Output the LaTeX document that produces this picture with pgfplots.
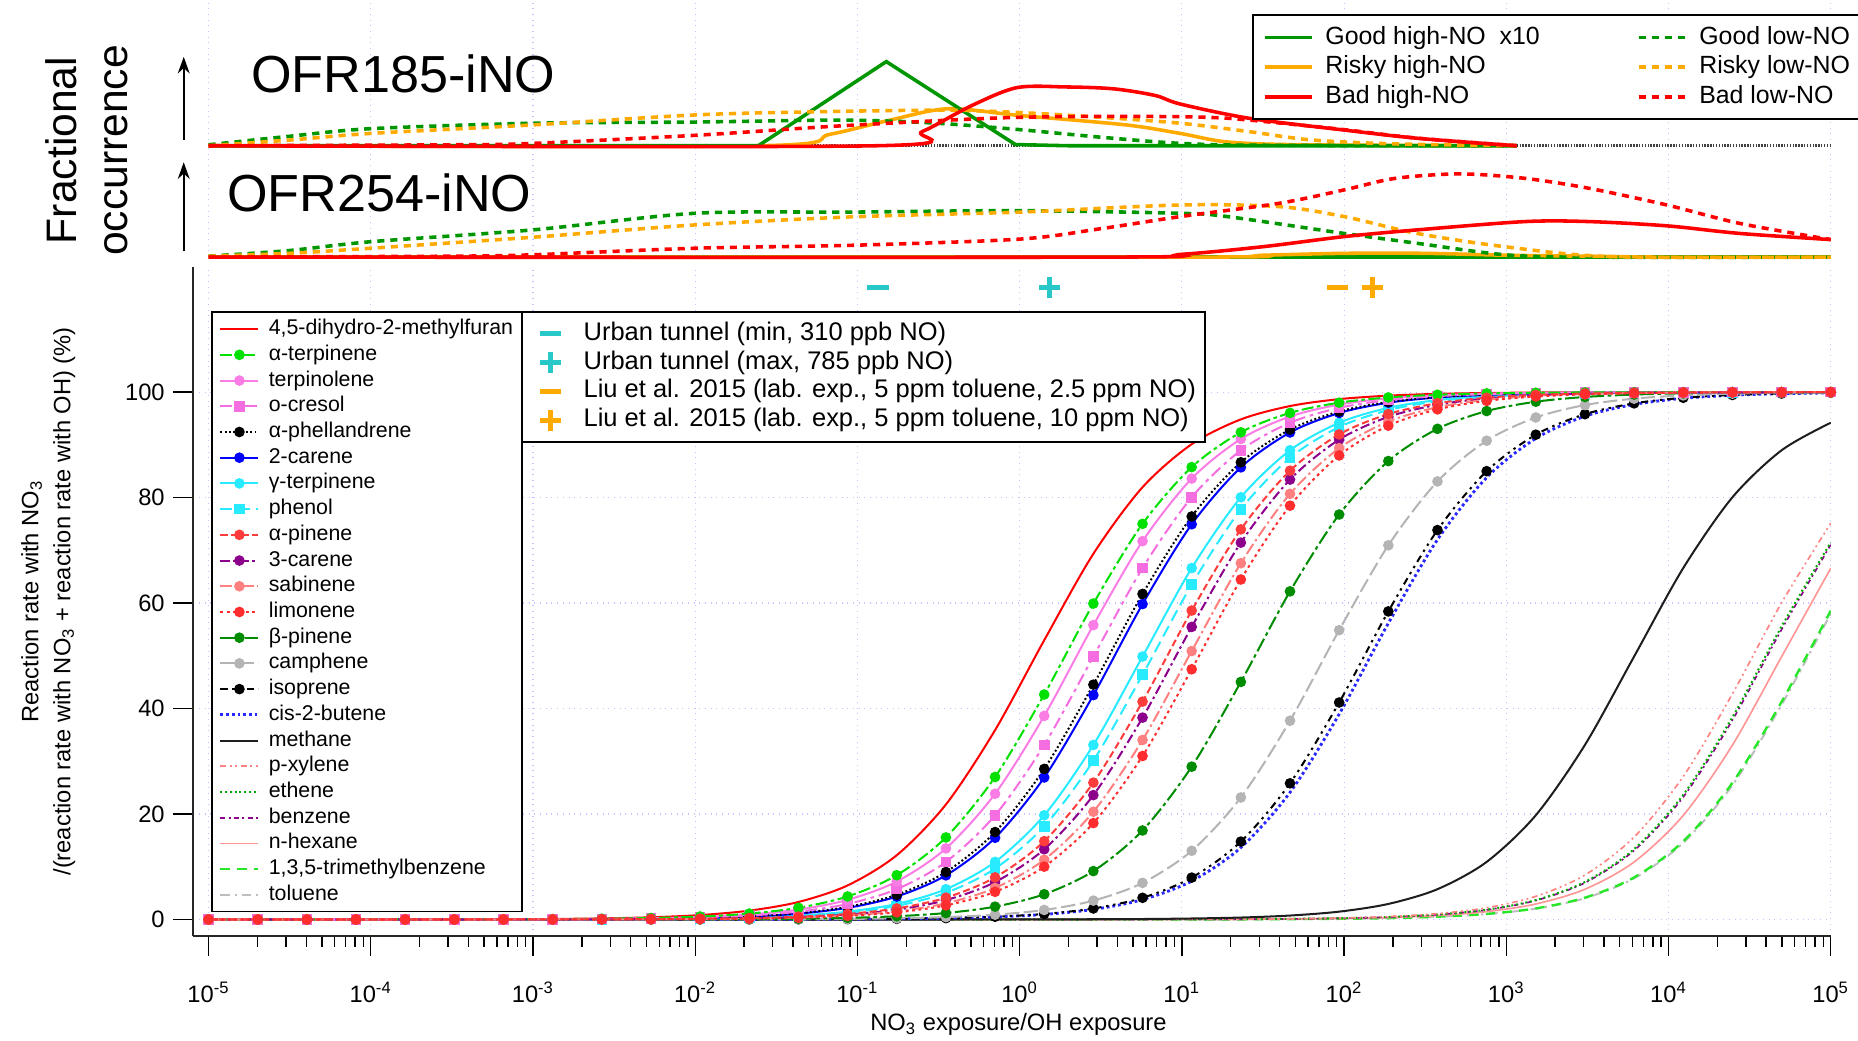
\documentclass[border=0pt]{standalone}
\usepackage{fontspec}
\setmainfont{Liberation Sans}
\usepackage{pgfplots}
\usepackage{pgfplotstable}
\pgfplotsset{compat=1.18}
\usetikzlibrary{arrows.meta}

\definecolor{cRed}{RGB}{255,0,0}
\definecolor{cATerp}{RGB}{0,225,0}
\definecolor{cTerpinolene}{RGB}{250,125,230}
\definecolor{cCresol}{RGB}{245,110,225}
\definecolor{cCarene}{RGB}{0,0,255}
\definecolor{cGTerp}{RGB}{40,235,255}
\definecolor{cAPinene}{RGB}{255,60,60}
\definecolor{cPurple}{RGB}{140,0,140}
\definecolor{cSabinene}{RGB}{255,128,128}
\definecolor{cLimonene}{RGB}{255,45,45}
\definecolor{cBPinene}{RGB}{0,140,0}
\definecolor{cCamphene}{RGB}{180,180,180}
\definecolor{cButene}{RGB}{40,40,255}
\definecolor{cMethane}{RGB}{30,30,30}
\definecolor{cXylene}{RGB}{255,130,130}
\definecolor{cEthene}{RGB}{0,170,0}
\definecolor{cHexane}{RGB}{255,150,150}
\definecolor{cTMB}{RGB}{40,230,40}
\definecolor{cToluene}{RGB}{190,190,190}
\definecolor{gridc}{RGB}{195,195,255}
\definecolor{pGreen}{RGB}{0,150,0}
\definecolor{pOrange}{RGB}{255,170,0}
\definecolor{pRed}{RGB}{255,0,0}
\definecolor{tealc}{RGB}{40,200,200}

\pgfplotsset{
 mk/.style={mark size=1.8pt, mark options={solid,fill=#1,draw=#1}},
 sDih/.style={color=cRed, line width=0.85pt, solid},
 sATe/.style={color=cATerp, line width=0.85pt, dash pattern=on 5pt off 1.5pt on 1.5pt off 1.5pt, mark=*, mk=cATerp},
 sTpn/.style={color=cTerpinolene, line width=0.85pt, solid, mark=*, mk=cTerpinolene},
 sCre/.style={color=cCresol, line width=0.85pt, dash pattern=on 5pt off 2pt on 1.5pt off 2pt, mark=square*, mk=cCresol},
 sAPh/.style={color=black, line width=0.85pt, dash pattern=on 0.8pt off 1pt, mark=*, mk=black},
 sCa2/.style={color=cCarene, line width=0.85pt, solid, mark=*, mk=cCarene},
 sGTe/.style={color=cGTerp, line width=0.85pt, solid, mark=*, mk=cGTerp},
 sPhe/.style={color=cGTerp, line width=0.85pt, dash pattern=on 5pt off 2.5pt, mark=square*, mk=cGTerp},
 sAPi/.style={color=cAPinene, line width=0.85pt, dash pattern=on 3pt off 1.5pt, mark=*, mk=cAPinene},
 sCa3/.style={color=cPurple, line width=0.85pt, dash pattern=on 4pt off 1.5pt on 1pt off 1.5pt, mark=*, mk=cPurple},
 sSab/.style={color=cSabinene, line width=0.85pt, dash pattern=on 5pt off 1.5pt on 1pt off 1.5pt, mark=*, mk=cSabinene},
 sLim/.style={color=cLimonene, line width=0.85pt, dash pattern=on 1.2pt off 1.5pt, mark=*, mk=cLimonene},
 sBPi/.style={color=cBPinene, line width=0.85pt, dash pattern=on 6pt off 1.5pt on 1.5pt off 1.5pt, mark=*, mk=cBPinene},
 sCam/.style={color=cCamphene, line width=0.85pt, dash pattern=on 6pt off 2pt, mark=*, mk=cCamphene},
 sIso/.style={color=black, line width=0.85pt, dash pattern=on 3pt off 2pt on 1pt off 2pt on 1pt off 2pt, mark=*, mk=black},
 sBut/.style={color=cButene, line width=1.2pt, dash pattern=on 1.2pt off 1.2pt},
 sMet/.style={color=cMethane, line width=0.85pt, solid},
 sXyl/.style={color=cXylene, line width=0.7pt, dash pattern=on 2.5pt off 1.5pt on 0.8pt off 1.5pt on 0.8pt off 1.5pt},
 sEth/.style={color=cEthene, line width=0.85pt, dash pattern=on 0.8pt off 1.2pt},
 sBen/.style={color=cPurple, line width=0.7pt, dash pattern=on 2pt off 1.5pt on 0.8pt off 1.5pt},
 sHex/.style={color=cHexane, line width=0.7pt, solid},
 sTMB/.style={color=cTMB, line width=1pt, dash pattern=on 4pt off 3pt},
 sTol/.style={color=cToluene, line width=0.85pt, dash pattern=on 4pt off 2pt on 1pt off 2pt},
 pGH/.style={color=pGreen, line width=1.5pt, solid},
 pGL/.style={color=pGreen, line width=1.5pt, dash pattern=on 3pt off 2.5pt},
 pRH/.style={color=pOrange, line width=1.5pt, solid},
 pRL/.style={color=pOrange, line width=1.5pt, dash pattern=on 3pt off 2.5pt},
 pBH/.style={color=pRed, line width=1.5pt, solid},
 pBL/.style={color=pRed, line width=1.5pt, dash pattern=on 3pt off 2.5pt},
 pBase/.style={color=black!75, line width=1.2pt, dash pattern=on 0.6pt off 0.6pt},
}

\pgfplotstableread{
x c1 c2 c3 c4 c5 c6 c7 c8 c9 c10 c11 c12 c13 c14 c15 c16 c17 c18 c19 c20 c21 c22 c23
1e-5 0 0 0 0 0 0 0 0 0 0 0 0 0 0 0 0 0 0 0 0 0 0 0
2.0092e-5 0 0 0 0 0 0 0 0 0 0 0 0 0 0 0 0 0 0 0 0 0 0 0
4.0370e-5 0 0 0 0 0 0 0 0 0 0 0 0 0 0 0 0 0 0 0 0 0 0 0
8.1113e-5 0 0 0 0 0 0 0 0 0 0 0 0 0 0 0 0 0 0 0 0 0 0 0
1.6298e-4 0.01 0.01 0 0 0 0 0 0 0 0 0 0 0 0 0 0 0 0 0 0 0 0 0
3.2745e-4 0.03 0.02 0.01 0.01 0.01 0.01 0 0 0 0 0 0 0 0 0 0 0 0 0 0 0 0 0
6.5793e-4 0.05 0.03 0.03 0.02 0.02 0.02 0.01 0.01 0.01 0 0 0 0 0 0 0 0 0 0 0 0 0 0
1.3219e-3 0.10 0.07 0.06 0.05 0.04 0.03 0.02 0.02 0.02 0.01 0.01 0.01 0 0 0 0 0 0 0 0 0 0 0
2.6561e-3 0.21 0.14 0.12 0.09 0.07 0.07 0.05 0.04 0.03 0.03 0.02 0.02 0.01 0 0 0 0 0 0 0 0 0 0
5.3367e-3 0.42 0.28 0.24 0.19 0.15 0.14 0.09 0.08 0.07 0.06 0.05 0.04 0.02 0.01 0.01 0 0 0 0 0 0 0 0
1.0723e-2 0.84 0.56 0.47 0.37 0.30 0.28 0.19 0.16 0.13 0.12 0.10 0.08 0.04 0.01 0.01 0.01 0 0 0 0 0 0 0
2.1544e-2 1.68 1.12 0.95 0.75 0.60 0.56 0.37 0.32 0.26 0.23 0.19 0.17 0.08 0.03 0.02 0.01 0 0 0 0 0 0 0
4.3288e-2 3.32 2.22 1.88 1.49 1.21 1.11 0.75 0.65 0.53 0.47 0.39 0.34 0.15 0.06 0.03 0.03 0 0 0 0 0 0 0
8.6975e-2 6.46 4.37 3.72 2.95 2.39 2.21 1.49 1.30 1.06 0.93 0.78 0.68 0.31 0.11 0.07 0.06 0 0 0 0 0 0 0
0.17475 12.19 8.40 7.20 5.75 4.69 4.35 2.95 2.58 2.10 1.86 1.55 1.35 0.62 0.23 0.13 0.12 0 0 0 0 0 0 0
0.35112 21.81 15.56 13.48 10.92 9.00 8.37 5.75 5.05 4.14 3.67 3.07 2.68 1.23 0.46 0.26 0.24 0 0 0 0 0 0 0
0.70548 35.91 27.02 23.84 19.76 16.58 15.50 10.92 9.65 7.99 7.10 5.98 5.25 2.44 0.91 0.53 0.48 0.01 0 0 0 0 0 0
1.4175 52.96 42.66 38.61 33.11 28.55 26.93 19.76 17.66 14.85 13.32 11.33 10.02 4.79 1.81 1.05 0.96 0.02 0 0 0 0 0 0
2.8480 69.35 59.91 55.82 49.86 44.53 42.55 33.10 30.12 25.95 23.59 20.43 18.28 9.18 3.58 2.09 1.91 0.05 0.01 0 0 0 0 0
5.7224 81.97 75.02 71.74 66.64 61.73 59.81 49.86 46.41 41.31 38.28 34.04 31.00 16.88 6.94 4.11 3.77 0.09 0.02 0.01 0.01 0.01 0.01 0.01
11.498 90.13 85.78 83.61 80.06 76.42 74.94 66.64 63.50 58.58 55.48 50.90 47.45 28.98 13.03 7.94 7.29 0.19 0.03 0.03 0.03 0.02 0.02 0.02
23.101 94.83 92.38 91.11 88.97 86.69 85.73 80.06 77.76 73.97 71.46 67.56 64.47 45.05 23.14 14.77 13.64 0.37 0.07 0.06 0.06 0.05 0.03 0.03
46.416 97.36 96.06 95.37 94.19 92.90 92.35 88.97 87.54 85.10 83.42 80.71 78.47 62.22 37.69 25.82 24.10 0.75 0.14 0.12 0.11 0.09 0.07 0.06
93.260 98.67 98.00 97.64 97.02 96.33 96.04 94.19 93.38 91.98 91.00 89.37 87.99 76.79 54.86 41.15 38.94 1.49 0.28 0.23 0.23 0.19 0.13 0.13
187.38 99.33 98.99 98.81 98.49 98.14 97.99 97.02 96.59 95.84 95.31 94.41 93.64 86.93 70.95 58.42 56.17 2.95 0.56 0.47 0.46 0.37 0.26 0.26
376.49 99.67 99.50 99.40 99.24 99.07 98.99 98.49 98.28 97.89 97.61 97.14 96.73 93.04 83.07 73.84 72.03 5.75 1.12 0.94 0.92 0.75 0.53 0.52
756.46 99.83 99.75 99.70 99.62 99.53 99.49 99.24 99.13 98.94 98.80 98.55 98.34 96.41 90.79 85.01 83.80 10.92 2.23 1.86 1.82 1.49 1.06 1.03
1519.9 99.92 99.87 99.85 99.81 99.77 99.75 99.62 99.57 99.47 99.40 99.28 99.17 98.18 95.19 91.93 91.22 19.77 4.39 3.68 3.60 2.94 2.10 2.06
3053.9 99.96 99.94 99.93 99.91 99.88 99.87 99.81 99.78 99.73 99.70 99.64 99.58 99.08 97.55 95.82 95.43 33.11 8.44 7.12 6.97 5.74 4.14 4.04
6135.9 99.98 99.97 99.96 99.95 99.94 99.94 99.91 99.89 99.87 99.85 99.82 99.79 99.54 98.76 97.87 97.67 49.87 15.63 13.35 13.09 10.91 7.98 7.81
12328 99.99 99.98 99.98 99.98 99.97 99.97 99.95 99.95 99.93 99.93 99.91 99.90 99.77 99.38 98.93 98.83 66.65 27.13 23.65 23.23 19.74 14.83 14.54
24771 100 99.99 99.99 99.99 99.99 99.99 99.98 99.97 99.97 99.96 99.96 99.95 99.89 99.69 99.46 99.41 80.06 42.79 38.36 37.81 33.07 25.92 25.48
49770 100 100 100 99.99 99.99 99.99 99.99 99.99 99.98 99.98 99.98 99.97 99.94 99.85 99.73 99.71 88.97 60.05 55.56 54.99 49.83 41.28 40.72
100000 100 100 100 100 100 100 100 100 99.99 99.99 99.99 99.99 99.97 99.92 99.87 99.85 94.19 75.12 71.53 71.06 66.61 58.55 57.99
}\cmp

\begin{document}
\begin{tikzpicture}
\useasboundingbox (0,0) rectangle (784pt,439pt);

% ---------------- main axis ----------------
\begin{axis}[
  at={(81.5pt,44pt)}, anchor=south west, scale only axis,
  width=691pt, height=282.5pt,
  xmode=log, xmin=8.035e-6, xmax=1e5, ymin=-3.15, ymax=123.8,
  axis x line*=bottom, axis y line*=left,
  axis line style={line width=0.9pt, black!85},
  xtick={1e-5,1e-4,1e-3,1e-2,1e-1,1,1e1,1e2,1e3,1e4,1e5},
  xticklabels={10\textsuperscript{-5},10\textsuperscript{-4},10\textsuperscript{-3},10\textsuperscript{-2},10\textsuperscript{-1},10\textsuperscript{0},10\textsuperscript{1},10\textsuperscript{2},10\textsuperscript{3},10\textsuperscript{4},10\textsuperscript{5}},
  minor xtick={2e-5,3e-5,4e-5,5e-5,6e-5,7e-5,8e-5,9e-5,2e-4,3e-4,4e-4,5e-4,6e-4,7e-4,8e-4,9e-4,2e-3,3e-3,4e-3,5e-3,6e-3,7e-3,8e-3,9e-3,0.02,0.03,0.04,0.05,0.06,0.07,0.08,0.09,0.2,0.3,0.4,0.5,0.6,0.7,0.8,0.9,2,3,4,5,6,7,8,9,20,30,40,50,60,70,80,90,200,300,400,500,600,700,800,900,2000,3000,4000,5000,6000,7000,8000,9000,20000,30000,40000,50000,60000,70000,80000,90000},
  ytick={0,20,40,60,80,100},
  tick align=outside,
  major tick length=8.5pt, minor tick length=4.5pt,
  every tick/.style={black, line width=0.6pt},
  grid=major,
  major grid style={gridc, dotted, line width=0.5pt},
  tick label style={font=\fontsize{10}{12}\selectfont},
  xticklabel style={yshift=-7.5pt},
  /pgf/number format/assume math mode=true,
  xlabel={NO\textsubscript{3} exposure/OH exposure},
  xlabel style={at={(axis description cs:0.504,-0.132)}, anchor=center, font=\fontsize{10}{12}\selectfont},
  ylabel={Reaction rate with NO\textsubscript{3}\\/(reaction rate with NO\textsubscript{3} + reaction rate with OH) (\%)},
  ylabel style={at={(axis description cs:-0.0885,0.5)}, anchor=center, align=center, font=\fontsize{10}{13.5}\selectfont},
  legend style={at={(0.0109,0.933)}, anchor=north west, font=\fontsize{9}{10}\selectfont,
     draw=black, line width=0.8pt, fill=white, inner xsep=3pt, inner ysep=2pt, row sep=0.75pt,
     nodes={inner sep=0.8pt, text height=6.6pt, text depth=1.9pt},
     /tikz/every odd column/.append style={column sep=3pt}},
  legend cell align=left,
  legend image code/.code={\draw[mark repeat=2,mark phase=2,#1] plot coordinates {(0pt,0pt) (8pt,0pt) (16pt,0pt)};},
]
% lines without markers
\addplot[sTol, smooth, forget plot] table[x=x,y=c23]{\cmp};
\addplot[sTMB, smooth, forget plot] table[x=x,y=c22]{\cmp};
\addplot[sHex, smooth, forget plot] table[x=x,y=c21]{\cmp};
\addplot[sBen, smooth, forget plot] table[x=x,y=c20]{\cmp};
\addplot[sEth, smooth, forget plot] table[x=x,y=c19]{\cmp};
\addplot[sXyl, smooth, forget plot] table[x=x,y=c18]{\cmp};
\addplot[sMet, smooth, forget plot] table[x=x,y=c17]{\cmp};
\addplot[sBut, smooth, forget plot] table[x=x,y=c16]{\cmp};
\addplot[sDih, smooth, forget plot] table[x=x,y=c1]{\cmp};
% marker series
\addplot[sIso, smooth, forget plot] table[x=x,y=c15]{\cmp};
\addplot[sCam, smooth, forget plot] table[x=x,y=c14]{\cmp};
\addplot[sBPi, smooth, forget plot] table[x=x,y=c13]{\cmp};
\addplot[sPhe, smooth, forget plot] table[x=x,y=c8]{\cmp};
\addplot[sGTe, smooth, forget plot] table[x=x,y=c7]{\cmp};
\addplot[sCa2, smooth, forget plot] table[x=x,y=c6]{\cmp};
\addplot[sAPh, smooth, forget plot] table[x=x,y=c5]{\cmp};
\addplot[sCre, smooth, forget plot] table[x=x,y=c4]{\cmp};
\addplot[sTpn, smooth, forget plot] table[x=x,y=c3]{\cmp};
\addplot[sATe, smooth, forget plot] table[x=x,y=c2]{\cmp};
\addplot[sCa3, smooth, forget plot] table[x=x,y=c10]{\cmp};
\addplot[sSab, smooth, forget plot] table[x=x,y=c11]{\cmp};
\addplot[sAPi, smooth, forget plot] table[x=x,y=c9]{\cmp};
\addplot[sLim, smooth, forget plot] table[x=x,y=c12]{\cmp};
% legend
\addlegendimage{sDih}\addlegendentry{4,5-dihydro-2-methylfuran}
\addlegendimage{sATe}\addlegendentry{α-terpinene}
\addlegendimage{sTpn}\addlegendentry{terpinolene}
\addlegendimage{sCre}\addlegendentry{o-cresol}
\addlegendimage{sAPh}\addlegendentry{α-phellandrene}
\addlegendimage{sCa2}\addlegendentry{2-carene}
\addlegendimage{sGTe}\addlegendentry{γ-terpinene}
\addlegendimage{sPhe}\addlegendentry{phenol}
\addlegendimage{sAPi}\addlegendentry{α-pinene}
\addlegendimage{sCa3}\addlegendentry{3-carene}
\addlegendimage{sSab}\addlegendentry{sabinene}
\addlegendimage{sLim}\addlegendentry{limonene}
\addlegendimage{sBPi}\addlegendentry{β-pinene}
\addlegendimage{sCam}\addlegendentry{camphene}
\addlegendimage{sIso}\addlegendentry{isoprene}
\addlegendimage{sBut}\addlegendentry{cis-2-butene}
\addlegendimage{sMet}\addlegendentry{methane}
\addlegendimage{sXyl}\addlegendentry{p-xylene}
\addlegendimage{sEth}\addlegendentry{ethene}
\addlegendimage{sBen}\addlegendentry{benzene}
\addlegendimage{sHex}\addlegendentry{n-hexane}
\addlegendimage{sTMB}\addlegendentry{1,3,5-trimethylbenzene}
\addlegendimage{sTol}\addlegendentry{toluene}
\end{axis}

% ---------------- overlay: urban tunnel / Liu markers ----------------
\begin{axis}[
  at={(81.5pt,44pt)}, anchor=south west, scale only axis,
  width=691pt, height=282.5pt,
  xmode=log, xmin=8.035e-6, xmax=1e5, ymin=-3.15, ymax=123.8,
  hide axis, clip=false,
  legend style={at={(0.2004,0.933)}, anchor=north west, font=\fontsize{10.75}{12.5}\selectfont,
     draw=black, line width=0.8pt, fill=white, inner xsep=3pt, inner ysep=3pt, row sep=0.3pt,
     nodes={inner sep=0.9pt, text height=7.8pt, text depth=2.3pt},
     /tikz/every odd column/.append style={column sep=4pt}},
  legend cell align=left,
  legend image code/.code={\path[draw=none,fill=none] (0pt,-1pt) rectangle (18pt,1pt); \draw[mark repeat=2,mark phase=2,#1] plot coordinates {(0pt,0pt) (9pt,0pt) (18pt,0pt)};},
]
\addplot[only marks, mark=-, mark size=4.5pt, color=tealc, line width=2pt] coordinates {(0.134,119.8)};
\addlegendentry{Urban tunnel (min, 310 ppb NO)}
\addplot[only marks, mark=+, mark size=4.5pt, color=tealc, line width=2pt] coordinates {(1.53,119.8)};
\addlegendentry{Urban tunnel (max, 785 ppb NO)}
\addplot[only marks, mark=-, mark size=4.5pt, color=pOrange, line width=2pt] coordinates {(91.4,119.8)};
\addlegendentry{Liu et al. 2015 (lab. exp., 5 ppm toluene, 2.5 ppm NO)}
\addplot[only marks, mark=+, mark size=4.5pt, color=pOrange, line width=2pt] coordinates {(149,119.8)};
\addlegendentry{Liu et al. 2015 (lab. exp., 5 ppm toluene, 10 ppm NO)}
\end{axis}

% ---------------- middle panel: OFR254-iNO ----------------
\begin{axis}[
  at={(88pt,330.5pt)}, anchor=south west, scale only axis,
  width=684.5pt, height=47pt,
  xmin=-5, xmax=5, ymin=0, ymax=1.175,
  axis line style={draw=none},
  xtick={-5,-4,...,5}, ytick=\empty, xticklabels={,,,,,,,,,,}, major tick length=0pt,
  xmajorgrids, major grid style={gridc, dotted, line width=0.5pt},
  clip=false,
]
\addplot[pBase] coordinates {(-5,0) (5,0)};
\addplot[pGH] coordinates {(-5,0) (5,0)};
\addplot[pRH, smooth] coordinates {(-5,0) (1.0,0) (1.5,0.02) (2.0,0.04) (2.5,0.04) (3.0,0.02) (3.5,0.01) (4,0) (5,0)};
\addplot[pGL, smooth] coordinates {(-5,0.01) (-4.5,0.07) (-4,0.1625) (-3,0.2875) (-2,0.4625) (-1.03,0.475) (0,0.49) (0.99,0.4625) (1.28,0.4275) (2.0,0.25) (2.45,0.146) (2.99,0.025) (3.5,0) (5,0)};
\addplot[pRL, smooth] coordinates {(-5,0.01) (-4.5,0.04) (-4,0.094) (-3,0.21) (-2,0.34) (-1.03,0.425) (0,0.475) (0.99,0.55) (1.6,0.533) (2.0,0.4275) (2.45,0.25) (2.99,0.11) (3.65,0.005) (5,0)};
\addplot[pBH, smooth] coordinates {(-5,0) (0.5,0) (1.0,0.03) (1.5,0.11) (1.998,0.216) (2.451,0.2875) (3.115,0.375) (3.51,0.375) (3.99,0.33) (4.438,0.25) (5,0.185)};
\addplot[pBL, smooth] coordinates {(-5,0) (-3.5,0.01) (-3,0.025) (-2,0.094) (-1.03,0.125) (0,0.19) (0.5,0.3) (0.99,0.4275) (1.6,0.568) (2.0,0.709) (2.316,0.831) (2.714,0.878) (3.115,0.831) (3.51,0.726) (3.99,0.55) (4.438,0.356) (5,0.185)};
\node[font=\fontsize{22}{26}\selectfont] at (axis cs:-3.948,0.675) {OFR254-iNO};
\draw[-{Stealth[length=7pt,width=5pt]}, line width=0.8pt] (axis cs:-5.153,0.0625) -- (axis cs:-5.153,1.0);
\end{axis}

% ---------------- top panel: OFR185-iNO ----------------
\begin{axis}[
  at={(88pt,377.5pt)}, anchor=south west, scale only axis,
  width=684.5pt, height=61.5pt,
  xmin=-5, xmax=5, ymin=0, ymax=1.5375,
  axis line style={draw=none},
  xtick={-5,-4,...,5}, ytick=\empty, xticklabels={,,,,,,,,,,}, major tick length=0pt,
  xmajorgrids, major grid style={gridc, dotted, line width=0.5pt},
  clip=false,
  legend style={at={(0.6435,0.9024)}, anchor=north west, font=\fontsize{10.5}{12}\selectfont,
     draw=black, line width=0.8pt, fill=white, inner xsep=4pt, inner ysep=3.5pt, row sep=0.6pt,
     nodes={inner sep=0.9pt, text height=7.8pt, text depth=2.3pt},
     legend columns=2,
     /tikz/every odd column/.append style={column sep=4pt},
     /tikz/every even column/.append style={column sep=40pt}},
  legend cell align=left,
  legend image code/.code={\draw[#1] (0pt,0pt) -- (20pt,0pt);},
]
\addplot[pBase, forget plot] coordinates {(-5,0) (5,0)};
\addplot[pRH, smooth, forget plot] coordinates {(-5,0) (-1.611,0) (-1.17,0.12) (-0.8,0.27) (-0.442,0.39) (-0.004,0.32) (0.654,0.22) (0.99,0.13) (1.28,0.04) (1.75,0.01) (3.064,0)};
\addplot[pGH, forget plot] coordinates {(-5,0) (-1.611,0) (-0.822,0.8875) (-0.026,0.0125) (0.3,0) (3.064,0)};
\addplot[pGL, smooth, forget plot] coordinates {(-5,0.01) (-4.5,0.1) (-4,0.18) (-3,0.2375) (-2,0.25) (-1.2,0.27) (-0.8,0.26) (-0.44,0.23) (0,0.17) (0.5,0.09) (0.99,0.025) (1.5,0.005) (3.064,0)};
\addplot[pRL, smooth, forget plot] coordinates {(-5,0) (-4.5,0.06) (-4,0.13) (-3,0.22) (-2,0.325) (-1.2,0.36) (-0.44,0.375) (0,0.35) (0.5,0.3) (0.99,0.2375) (1.41,0.15) (1.79,0.0625) (2.3,0.02) (3.064,0)};
\addplot[pBH, smooth, forget plot] coordinates {(-5,0) (-0.88,0) (-0.6,0.15) (-0.3,0.42) (-0.018,0.6125) (0.289,0.62) (0.581,0.6) (0.836,0.53) (0.99,0.44) (1.413,0.29) (1.998,0.166) (2.451,0.079) (3.064,0)};
\addplot[pBL, smooth, forget plot] coordinates {(-5,0) (-3.5,0.01) (-3,0.025) (-2,0.11) (-1.2,0.2) (-0.44,0.27) (0,0.3) (0.5,0.31) (0.99,0.306) (1.28,0.29) (1.6,0.24) (2.0,0.17) (2.45,0.08) (3.064,0)};
\node[font=\fontsize{22}{26}\selectfont] at (axis cs:-3.80,0.7625) {OFR185-iNO};
\draw[-{Stealth[length=7pt,width=5pt]}, line width=0.8pt] (axis cs:-5.153,0.0625) -- (axis cs:-5.153,0.9375);
\addlegendimage{pGH}\addlegendentry{Good high-NO\ \ x10}
\addlegendimage{pGL}\addlegendentry{Good low-NO}
\addlegendimage{pRH}\addlegendentry{Risky high-NO}
\addlegendimage{pRL}\addlegendentry{Risky low-NO}
\addlegendimage{pBH}\addlegendentry{Bad high-NO}
\addlegendimage{pBL}\addlegendentry{Bad low-NO}
\end{axis}

\node[rotate=90, align=center, font=\fontsize{18}{21.5}\selectfont] at (36.5pt,375.5pt) {Fractional\\occurrence};
\end{tikzpicture}
\end{document}
